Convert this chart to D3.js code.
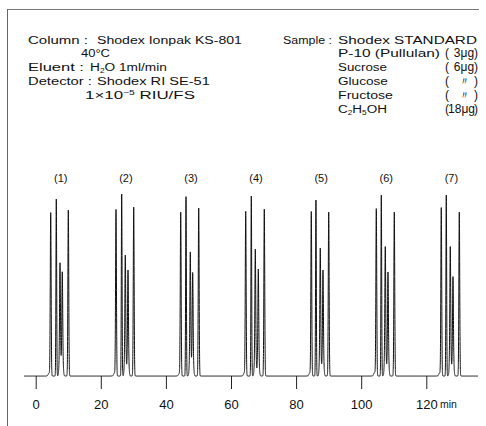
<!DOCTYPE html>
<html><head><meta charset="utf-8">
<script src="https://cdn.jsdelivr.net/npm/d3@7"></script>
<style>body{margin:0;background:#fff}svg{display:block}text{font-family:"Liberation Sans",Arial,sans-serif;fill:#111}</style>
</head><body><svg id="c" width="486" height="426"></svg>
<script>
// ---- data ----
const runLabels = ["(1)","(2)","(3)","(4)","(5)","(6)","(7)"];
const labelTimes = [7.7, 27.7, 47.7, 67.7, 87.7, 107.7, 127.7];
const compounds = ["P-10","Sucrose","Glucose","Fructose","C2H5OH"];
const p10Times      = [4.61, 24.67, 44.55, 64.52, 84.67, 104.64, 124.60];
const sucroseTimes  = [6.33, 26.42, 46.18, 66.24, 86.10, 106.18, 126.14];
const glucoseTimes  = [7.47, 27.53, 47.50, 67.47, 87.43, 107.40, 127.37];
const fructoseTimes = [8.17, 28.36, 48.23, 68.39, 88.26, 108.23, 128.20];
const ethanolTimes  = [10.02, 30.11, 50.08, 70.23, 90.02, 110.17, 130.14];
const p10Heights      = [81.5, 83.0, 81.7, 82.0, 82.0, 83.5, 84.0];
const sucroseHeights  = [88.5, 91.0, 89.7, 90.0, 88.0, 90.5, 90.5];
const glucoseHeights  = [56.5, 60.5, 62.0, 63.5, 64.0, 64.7, 64.7];
const fructoseHeights = [52.0, 53.0, 51.7, 53.5, 53.0, 52.0, 49.7];
const ethanolHeights  = [83.0, 84.5, 84.0, 83.5, 82.0, 82.0, 82.0];
const peakWidths = [0.13, 0.11, 0.12, 0.12, 0.13]; // min (sigma), per compound
const baseShare  = [0.0, 0.0, 0.3, 0.3, 0.0];      // broad-base fraction per compound
const smallPeakTimes   = [4.1, 24.2, 44.1, 64.1, 84.2, 104.1, 124.1];
const smallPeakHeights = [1.5, 1.5, 1.2, 1.5, 1.5, 1.8, 1.5];
const xTicks = [0, 20, 40, 60, 80, 100, 120];
const timeRange = [-3.6, 135.9];

// ---- scales ----
const svg = d3.select("#c");
const x = d3.scaleLinear().domain([0, 120]).range([35.7, 426.3]);
const y = d3.scaleLinear().domain([0, 100]).range([376, 176]);

// frame (top & left)
svg.append("line").attr("x1",7).attr("x2",479).attr("y1",9.5).attr("y2",9.5).attr("stroke","#777").attr("stroke-width",1);
svg.append("line").attr("x1",7.5).attr("x2",7.5).attr("y1",9).attr("y2",426).attr("stroke","#666").attr("stroke-width",1);

// ---- chromatogram trace ----
const timesBy = [p10Times, sucroseTimes, glucoseTimes, fructoseTimes, ethanolTimes];
const heightsBy = [p10Heights, sucroseHeights, glucoseHeights, fructoseHeights, ethanolHeights];
const peaks = [];
timesBy.forEach((ts, c) => ts.forEach((t, i) => {
  const h = heightsBy[c][i], b = baseShare[c];
  peaks.push({t, h: h * (1 - b), s: peakWidths[c]});
  if (b > 0) peaks.push({t, h: h * b, s: 0.22});
}));
smallPeakTimes.forEach((t, i) => peaks.push({t, h: smallPeakHeights[i], s: 0.25}));
const pts = [];
for (let t = timeRange[0]; t <= timeRange[1]; t += 0.01) {
  let v = 0;
  for (const p of peaks) { const d = (t - p.t) / p.s; if (Math.abs(d) < 8) v += p.h * Math.exp(-0.5 * d * d); }
  pts.push([t, v]);
}
svg.append("path").datum(pts)
  .attr("d", d3.line().x(d => x(d[0])).y(d => y(d[1])))
  .attr("fill","none").attr("stroke","#111").attr("stroke-width",1);

// ---- axis ----
const ax = svg.append("g").attr("transform", `translate(0,${y(0)})`)
  .call(d3.axisBottom(x).tickValues(xTicks).tickSize(13).tickPadding(10.5).tickFormat(d3.format("d")));
ax.select(".domain").remove();
ax.selectAll(".tick line").attr("stroke","#222");
ax.selectAll(".tick text").style("font-size","13px").attr("font-family",null).attr("fill","#111");
svg.append("text").attr("x", 440).attr("y", 408).style("font-size","10.5px").text("min");

// ---- run labels ----
svg.selectAll("text.run").data(runLabels).join("text").attr("class","run")
  .attr("x", (d, i) => x(labelTimes[i])).attr("y", 182).attr("text-anchor","middle")
  .style("font-size","11px").text(d => d);

// ---- header text (scaled horizontally to the measured widths) ----
function put(x0, yb, width, build) {
  const g = svg.append("g");
  const t = g.append("text").attr("x",0).attr("y",0).style("font-size","11.5px");
  build(t);
  const w = t.node().getComputedTextLength();
  const sx = width ? width / w : 1;
  g.attr("transform", `translate(${x0},${yb}) scale(${sx},1)`);
}
const plain = s => t => t.text(s);
const sub = (t, s) => t.append("tspan").attr("dy", 2).style("font-size","7px").text(s);
const back = (t, s) => t.append("tspan").attr("dy", -2).text(s);

const rowY = [43.5, 57, 71, 85, 98.5, 112.5];
put(28, rowY[0], 60, plain("Column :"));
put(97, rowY[0], 145, plain("Shodex  Ionpak KS-801"));
put(81, rowY[1], 29, plain("40°C"));
put(28, rowY[2], 56, plain("Eluent :"));
put(90, rowY[2], 77, t => { t.append("tspan").text("H"); sub(t, "2"); back(t, "O 1ml/min"); });
put(28, rowY[3], 64, plain("Detector :"));
put(97, rowY[3], 113, plain("Shodex RI SE-51"));
put(85, rowY[4], 110, t => { t.append("tspan").text("1×10"); t.append("tspan").attr("dy",-4).style("font-size","7px").text("−5"); t.append("tspan").attr("dy",4).text(" RIU/FS"); });

put(283, rowY[0], 49, plain("Sample :"));
put(338, rowY[0], 139, plain("Shodex STANDARD"));
put(338, rowY[1], 102, plain("P-10 (Pullulan)"));
put(338, rowY[2], 49, plain("Sucrose"));
put(338, rowY[3], 50, plain("Glucose"));
put(338, rowY[4], 55, plain("Fructose"));
put(338, rowY[5], 49, t => { t.append("tspan").text("C"); sub(t, "2"); back(t, "H"); sub(t, "5"); back(t, "OH"); });

const amounts = ["3μg", "6μg", "〃", "〃", "18μg"];
amounts.forEach((a, i) => {
  const yb = rowY[i + 1];
  svg.append("text").attr("x", 445).attr("y", yb).style("font-size","12px").text("(");
  svg.append("text").attr("x", 478).attr("y", yb).attr("text-anchor","end").style("font-size","12px").text(")");
  svg.append("text").attr("x", a === "18μg" ? 461.5 : 464).attr("y", yb).attr("text-anchor","middle")
    .style("font-size", a === "〃" ? "11px" : "12px").text(a);
});
</script></body></html>
